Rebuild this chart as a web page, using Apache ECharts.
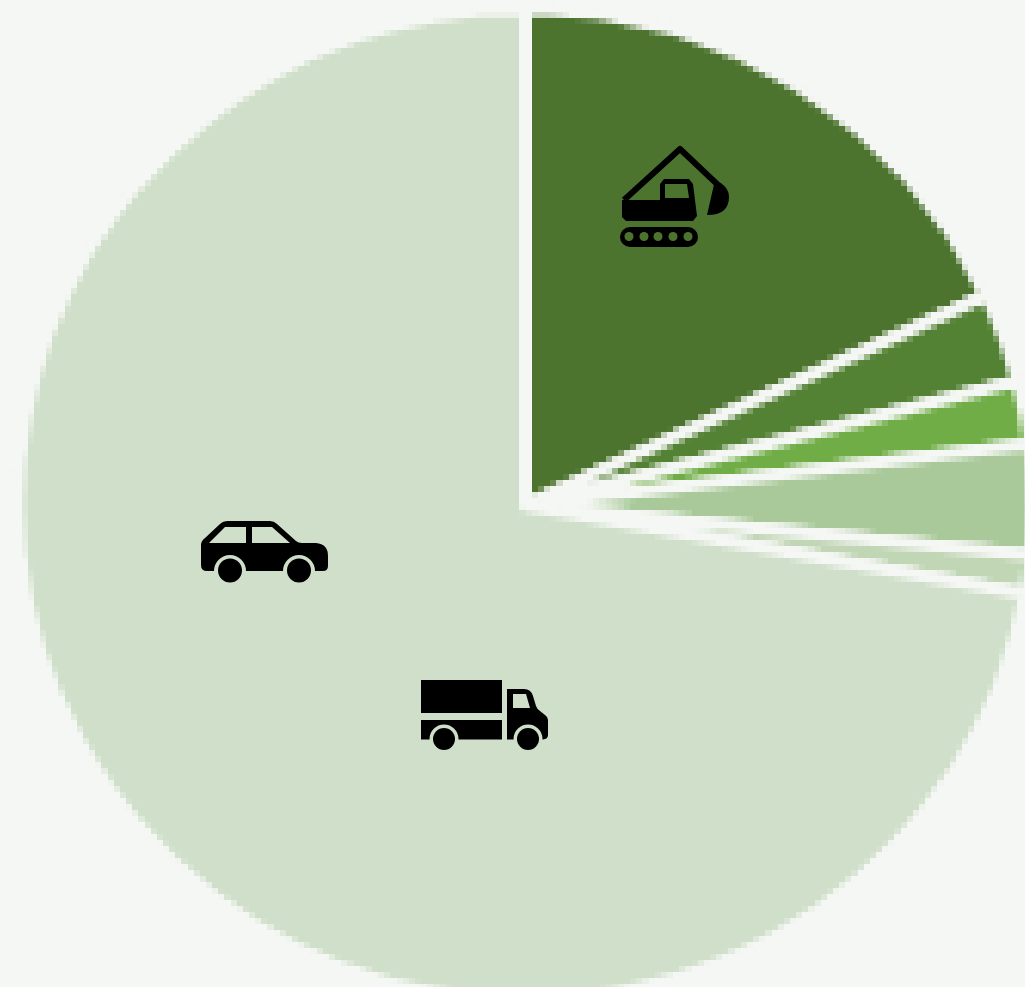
<!DOCTYPE html>
<html>
<head>
<meta charset="utf-8">
<script src="https://cdn.jsdelivr.net/npm/echarts@6/dist/echarts.min.js"></script>
<style>
html,body{margin:0;padding:0;width:1025px;height:987px;overflow:hidden;background:#f5f7f4}
#pie{position:absolute;left:-2.6px;top:0;width:1008px;height:990px;transform-origin:0 0;transform:scaleX(1.0245)}
#pie canvas{image-rendering:pixelated}
#icons{position:absolute;left:0;top:0;width:1025px;height:987px}
</style>
</head>
<body>
<div id="pie"></div>
<div id="icons"></div>
<script>
const sliceNames = ['Construction','Machinery','Industry','Rail','Shipping','Cars and trucks'];
const sliceValues = [18.06,2.92,2.06,3.56,1.27,72.13];
const sliceColors = ['#4c742f','#548235','#70ad47','#a9c99a','#c0d6b5','#cfdfc9'];
const pageBg = '#f5f7f4';
const lightBg = '#cfdfc9';
const darkBg = '#4c742f';

const pie = echarts.init(document.getElementById('pie'), null, {devicePixelRatio: 1/6});
pie.setOption({
  animation:false,
  backgroundColor:pageBg,
  series:[{
    type:'pie',
    center:[516,505],
    radius:[0,496],
    startAngle:90,
    clockwise:true,
    silent:true,
    label:{show:false},
    labelLine:{show:false},
    itemStyle:{borderColor:pageBg,borderWidth:12},
    data:sliceNames.map((n,i)=>({name:n,value:sliceValues[i],itemStyle:{color:sliceColors[i]}}))
  }]
});

const bucketPath = 'M715 180 Q729 186 729 197 Q729 215 707 215 Z';
const carPath = 'M201 545 Q201 541 205 538 L220 524 Q223 521 228 521 L270 521 Q274 521 277 524 L296 541 Q298 543 302 543 L316 543 Q328 544 328 556 L328 566 Q328 571 323 571 L207 571 Q201 571 201 565 Z';
const cabPath = 'M507 689 L524 689 Q531 689 533 696 L536 706 Q537 709 540 711 L545 715 Q548 717 548 721 L548 735 Q548 739 543 739.5 L507 739.5 Z';
echarts.graphic.registerShape('iconBucket', echarts.graphic.extendPath(bucketPath));
echarts.graphic.registerShape('iconCar', echarts.graphic.extendPath(carPath));
echarts.graphic.registerShape('iconCab', echarts.graphic.extendPath(cabPath));

const poly = (points,fill)=>({type:'polygon',shape:{points},style:{fill}});
const circ = (cx,cy,r,fill)=>({type:'circle',shape:{cx,cy,r},style:{fill}});
const rrect = (x,y,width,height,r,fill)=>({type:'rect',shape:{x,y,width,height,r},style:{fill}});

const excavator = [
  {type:'polyline',shape:{points:[[624,200],[680,149],[717,184]]},style:{stroke:'#000',lineWidth:6,fill:null,lineJoin:'round'}},
  poly([[622,200],[660,200],[660,184],[664,179],[689,179],[693,184],[697,216],[693,221],[626,221],[622,217]],'#000'),
  poly([[665,184],[687,184],[689,198],[665,198]],darkBg),
  {type:'iconBucket',style:{fill:'#000'}},
  rrect(620,227,78,20,10,'#000'),
  ...[629,644,658,673,688].map(x=>circ(x,236.5,4.5,darkBg))
];
const car = [
  {type:'iconCar',style:{fill:'#000'}},
  circ(230,571,16,lightBg),
  circ(299,571,16,lightBg),
  circ(230,570.5,12,'#000'),
  circ(299,570.5,12,'#000'),
  poly([[209,543],[225,527],[246,527],[246,543]],lightBg),
  poly([[252,527],[272,527],[290,543],[252,543]],lightBg)
];
const truck = [
  rrect(421,680,81,33,0,'#000'),
  rrect(421,720,81,19.5,0,'#000'),
  {type:'iconCab',style:{fill:'#000'}},
  circ(444,739,14.5,lightBg),
  circ(528,739,14.5,lightBg),
  circ(444,739,11,'#000'),
  circ(528,739,11,'#000'),
  poly([[513,694],[526,694],[530,708],[513,708]],lightBg)
];

const icons = echarts.init(document.getElementById('icons'));
icons.setOption({
  animation:false,
  backgroundColor:'transparent',
  graphic:[...excavator,...car,...truck].map(e=>Object.assign({silent:true},e))
});
</script>
</body>
</html>
